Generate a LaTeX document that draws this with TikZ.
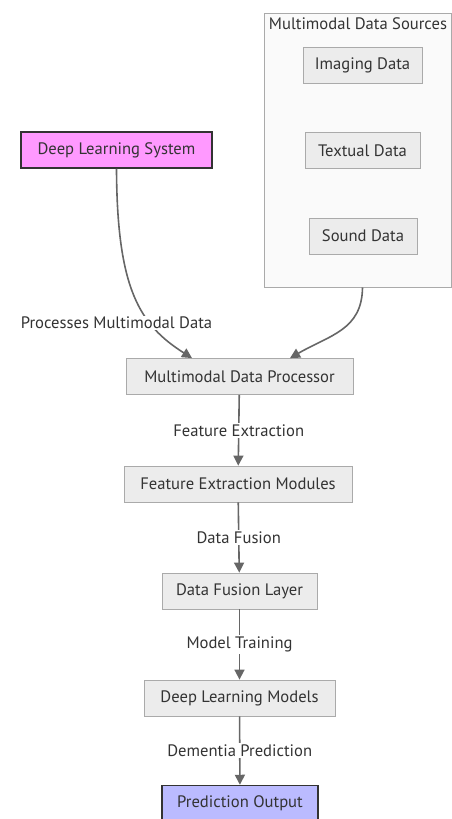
\documentclass[tikz,border=0pt]{standalone}
\usepackage{fontspec}
\setmainfont{PT Sans}
\usetikzlibrary{arrows.meta}
\definecolor{boxfill}{HTML}{ECECEC}
\definecolor{boxline}{HTML}{AAAAAA}
\definecolor{sysfill}{HTML}{FF99FF}
\definecolor{outfill}{HTML}{BBBBFF}
\definecolor{darkline}{HTML}{333333}
\definecolor{edgecol}{HTML}{666666}
\definecolor{clusterfill}{HTML}{FAFAFA}

\begin{document}
\begin{tikzpicture}[x=1pt,y=-1pt,
    every node/.style={font=\fontsize{16.6}{19}\selectfont, text=black!80},
    box/.style={draw=boxline, fill=boxfill, line width=0.8pt, minimum height=36pt, inner sep=0pt},
    sysbox/.style={box, draw=darkline, fill=sysfill, line width=1.5pt},
    outbox/.style={box, draw=darkline, fill=outfill, line width=1.5pt},
    lbl/.style={fill=white, inner sep=1.5pt},
    flow/.style={draw=edgecol, line width=1.6pt, -{Triangle[length=10pt,width=10pt]}}]
      \useasboundingbox (0,0) rectangle (452,819);
      % cluster of sources
      \draw[fill=clusterfill, draw=boxline, line width=0.8pt] (264,13) rectangle (451.5,287.5);
      \node (srctitle) at (358,24) {Multimodal Data Sources};
      \node (img) [box, minimum width=119pt] at (362.5,65) {Imaging Data};
      \node (txt) [box, minimum width=115pt] at (362.5,150.5) {Textual Data};
      \node (snd) [box, minimum width=108pt] at (363,236) {Sound Data};
      \coordinate (srcout) at (362.5,287.5);
      % main column
      \node (dls) [sysbox, minimum width=191pt] at (116.5,150) {Deep Learning System};
      \node (mdp) [box, minimum width=227pt] at (239.5,376.5) {Multimodal Data Processor};
      \node (fem) [box, minimum width=228pt] at (238,484) {Feature Extraction Modules};
      \node (dfl) [box, minimum width=155pt] at (239.5,591) {Data Fusion Layer};
      \node (dlm) [box, minimum width=191pt] at (239.5,698) {Deep Learning Models};
      \node (po)  [outbox, minimum width=156pt] at (240,803.5) {Prediction Output};
      \coordinate (mdpinl) at ([xshift=-47.5pt]mdp.north);
      \coordinate (mdpinr) at ([xshift=50.5pt]mdp.north);
      % edges
      \draw[flow] (dls.south) .. controls (117,290) and (140,325) .. (mdpinl);
      \draw[flow] (srcout) .. controls (362,330) and (330,335) .. (mdpinr);
      \node (lblproc) [lbl] at (116.5,323) {Processes Multimodal Data};
      \draw[flow] (mdp) -- node[lbl] {Feature Extraction} (fem);
      \draw[flow] (fem) -- node[lbl] {Data Fusion} (dfl);
      \draw[flow] (dfl) -- node[lbl] {Model Training} (dlm);
      \draw[flow] (dlm) -- node[lbl] {Dementia Prediction} (po);
\end{tikzpicture}
\end{document}
